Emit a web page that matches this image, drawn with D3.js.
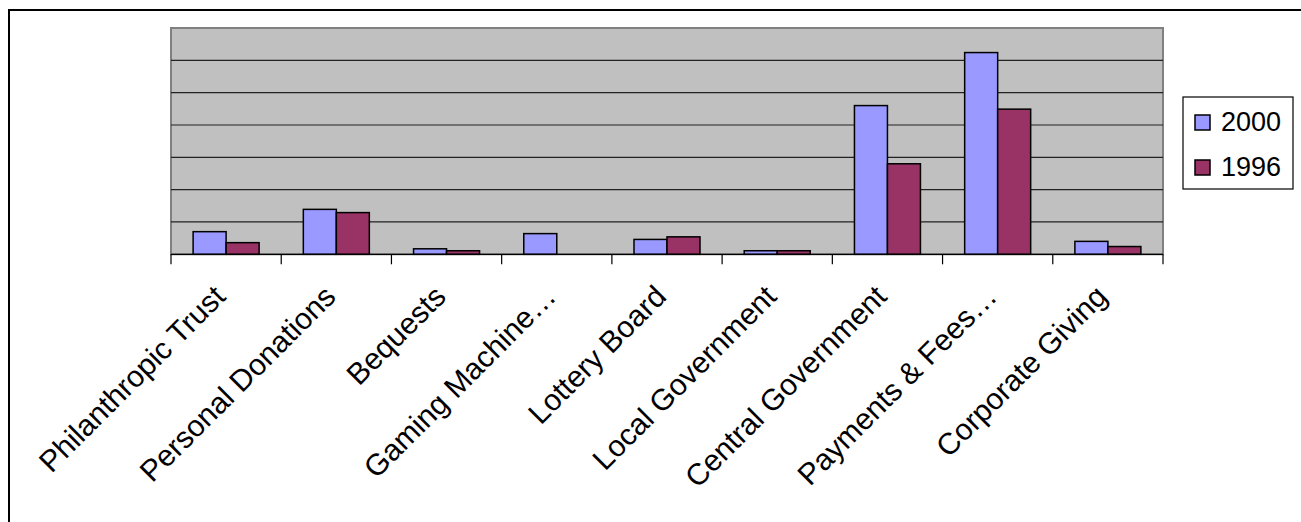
<!DOCTYPE html>
<html>
<head>
<meta charset="utf-8">
<script src="https://cdn.jsdelivr.net/npm/d3@7"></script>
<style>
  html, body { margin: 0; padding: 0; background: #fff; }
  svg { display: block; }
  text { font-family: "Liberation Sans", Arial, sans-serif; }
</style>
</head>
<body>
<svg id="chart" width="1301" height="522"></svg>
<script>
const categories = ["Philanthropic Trust", "Personal Donations", "Bequests", "Gaming Machine\u2026", "Lottery Board", "Local Government", "Central Government", "Payments & Fees\u2026", "Corporate Giving"];
const seriesNames = ["2000", "1996"];
const values2000 = [0.70, 1.39, 0.17, 0.64, 0.46, 0.11, 4.60, 6.24, 0.40];
const values1996 = [0.36, 1.29, 0.11, 0, 0.54, 0.11, 2.80, 4.49, 0.24];
const seriesColors = ["#9999FF", "#993366"];
const yTicks = [0, 1, 2, 3, 4, 5, 6, 7];

const svg = d3.select("#chart");
const W = 1301, H = 522;

// Outer chart frame (right/bottom edges fall outside the window)
svg.append("rect")
  .attr("x", 9).attr("y", 10)
  .attr("width", W + 20).attr("height", H + 20)
  .attr("fill", "#fff").attr("stroke", "#000").attr("stroke-width", 2);

const plot = { left: 171, top: 28, right: 1163, bottom: 254.3 };

const x0 = d3.scaleBand().domain(categories).range([plot.left, plot.right]).paddingInner(0).paddingOuter(0);
const x1 = d3.scaleBand().domain(seriesNames).range([0, x0.bandwidth()]).paddingInner(0).paddingOuter(0.67);
const y = d3.scaleLinear().domain([0, 7]).range([plot.bottom, plot.top]);

// Plot background
svg.append("rect")
  .attr("x", plot.left).attr("y", plot.top)
  .attr("width", plot.right - plot.left).attr("height", plot.bottom - plot.top)
  .attr("fill", "#C0C0C0").attr("stroke", "#808080").attr("stroke-width", 2);

// Gridlines
svg.append("g")
  .selectAll("line")
  .data(yTicks.filter(d => d > 0 && d < 7))
  .join("line")
  .attr("x1", plot.left).attr("x2", plot.right)
  .attr("y1", d => y(d)).attr("y2", d => y(d))
  .attr("stroke", "#222").attr("stroke-width", 1.2);

// Bars
const data = categories.map((c, i) => ({ cat: c, vals: [values2000[i], values1996[i]] }));
const groups = svg.append("g").selectAll("g")
  .data(data).join("g")
  .attr("transform", d => `translate(${x0(d.cat)},0)`);

groups.selectAll("rect")
  .data(d => d.vals.map((v, j) => ({ s: seriesNames[j], v, j })).filter(e => e.v > 0))
  .join("rect")
  .attr("x", e => x1(e.s))
  .attr("width", x1.bandwidth())
  .attr("y", e => y(e.v))
  .attr("height", e => y(0) - y(e.v))
  .attr("fill", e => seriesColors[e.j])
  .attr("stroke", "#000").attr("stroke-width", 1.5);

// X axis line and ticks at category boundaries
const boundaries = categories.map(c => x0(c)).concat([plot.right]);
svg.append("line")
  .attr("x1", plot.left).attr("x2", plot.right)
  .attr("y1", plot.bottom).attr("y2", plot.bottom)
  .attr("stroke", "#000").attr("stroke-width", 1.2);
svg.append("g").selectAll("line")
  .data(boundaries).join("line")
  .attr("x1", d => d).attr("x2", d => d)
  .attr("y1", plot.bottom).attr("y2", plot.bottom + 10)
  .attr("stroke", "#000").attr("stroke-width", 1.2);

// Category labels
svg.append("g").selectAll("text")
  .data(categories).join("text")
  .attr("transform", d => `translate(${x0(d) + x0.bandwidth() / 2 + 1},${plot.bottom + 44}) rotate(-45)`)
  .attr("text-anchor", "end")
  .attr("font-size", 30)
  .attr("fill", "#000")
  .text(d => d);

// Legend
const lg = svg.append("g");
lg.append("rect")
  .attr("x", 1183).attr("y", 97).attr("width", 110).attr("height", 92)
  .attr("fill", "#fff").attr("stroke", "#000").attr("stroke-width", 1.2);
seriesNames.forEach((s, i) => {
  const yy = 131 + i * 45;
  lg.append("rect")
    .attr("x", 1195).attr("y", yy - 16).attr("width", 15).attr("height", 15)
    .attr("fill", seriesColors[i]).attr("stroke", "#000").attr("stroke-width", 1.5);
  lg.append("text")
    .attr("x", 1221).attr("y", yy)
    .attr("font-size", 27).attr("fill", "#000")
    .text(s);
});
</script>
</body>
</html>
